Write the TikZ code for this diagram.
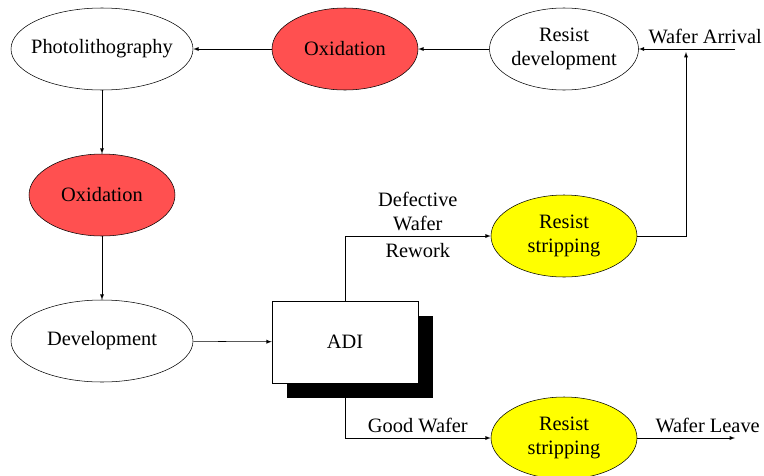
\documentclass[tikz,border=0pt]{standalone}
\usepackage{fontspec}
\setmainfont{Liberation Serif}
\usetikzlibrary{shapes.geometric,shadows}
\definecolor{oxred}{RGB}{255,80,80}
\definecolor{rsyellow}{RGB}{255,255,0}
\begin{document}
\begin{tikzpicture}[x=0.75pt,y=-0.75pt]
    \tikzset{step ell/.style={ellipse, draw=black, align=center, inner sep=0pt,
            minimum width=109.5pt, minimum height=61.5pt,
            font=\fontsize{15.3}{18}\selectfont},
        wide ell/.style={step ell, minimum width=136.5pt, inner xsep=-5pt},
        lbl/.style={align=center, font=\fontsize{15.3}{18}\selectfont}}
    \useasboundingbox (0,0) rectangle (764,475);
    %Prozess
    \node[wide ell]                 (photo) at (102,49)  {Photolithography};
    \node[step ell, fill=oxred]     (oxa)   at (345,49)  {Oxidation};
    \node[step ell]                 (resd)  at (564,49)  {Resist\\development};
    \node[step ell, fill=oxred]     (oxb)   at (102,195) {Oxidation};
    \node[wide ell]                 (dev)   at (102,341) {Development};
    \node[draw=black, fill=white, minimum width=109.5pt, minimum height=61.5pt,
        drop shadow={shadow xshift=11.25pt, shadow yshift=-11.25pt, fill=black, opacity=1},
        font=\fontsize{15.3}{18}\selectfont] (adi) at (345,342) {ADI};
    \node[step ell, fill=rsyellow]  (rsa)   at (564,236) {Resist\\stripping};
    \node[step ell, fill=rsyellow]  (rsb)   at (564,438) {Resist\\stripping};
    \coordinate (arr)  at (735,49);
    \coordinate (join) at (686,52);
    \coordinate (out)  at (735,438);

    %Pfeile
    \draw[-latex] (arr) -- (resd)   node[lbl, pos=.31, above] {Wafer Arrival};
    \draw[-latex] (resd) -- (oxa);
    \draw[-latex] (oxa) -- (photo);
    \draw[-latex] (photo) -- (oxb);
    \draw[-latex] (oxb) -- (dev);
    \draw[-latex] (dev) -- (adi);
    \draw[-latex] (adi.north) |- (rsa.west)
        node[lbl, pos=.75, above] {Defective\\Wafer}
        node[lbl, pos=.75, below, yshift=-2pt] {Rework};
    \draw[-latex] (adi.south) |- (rsb.west)
        node[lbl, pos=.75, above] {Good Wafer};
    \draw[-latex] (rsa.east) -| (join);
    \draw[-latex] (rsb.east) -- (out)  node[lbl, pos=.72, above] {Wafer Leave};
\end{tikzpicture}
\end{document}
